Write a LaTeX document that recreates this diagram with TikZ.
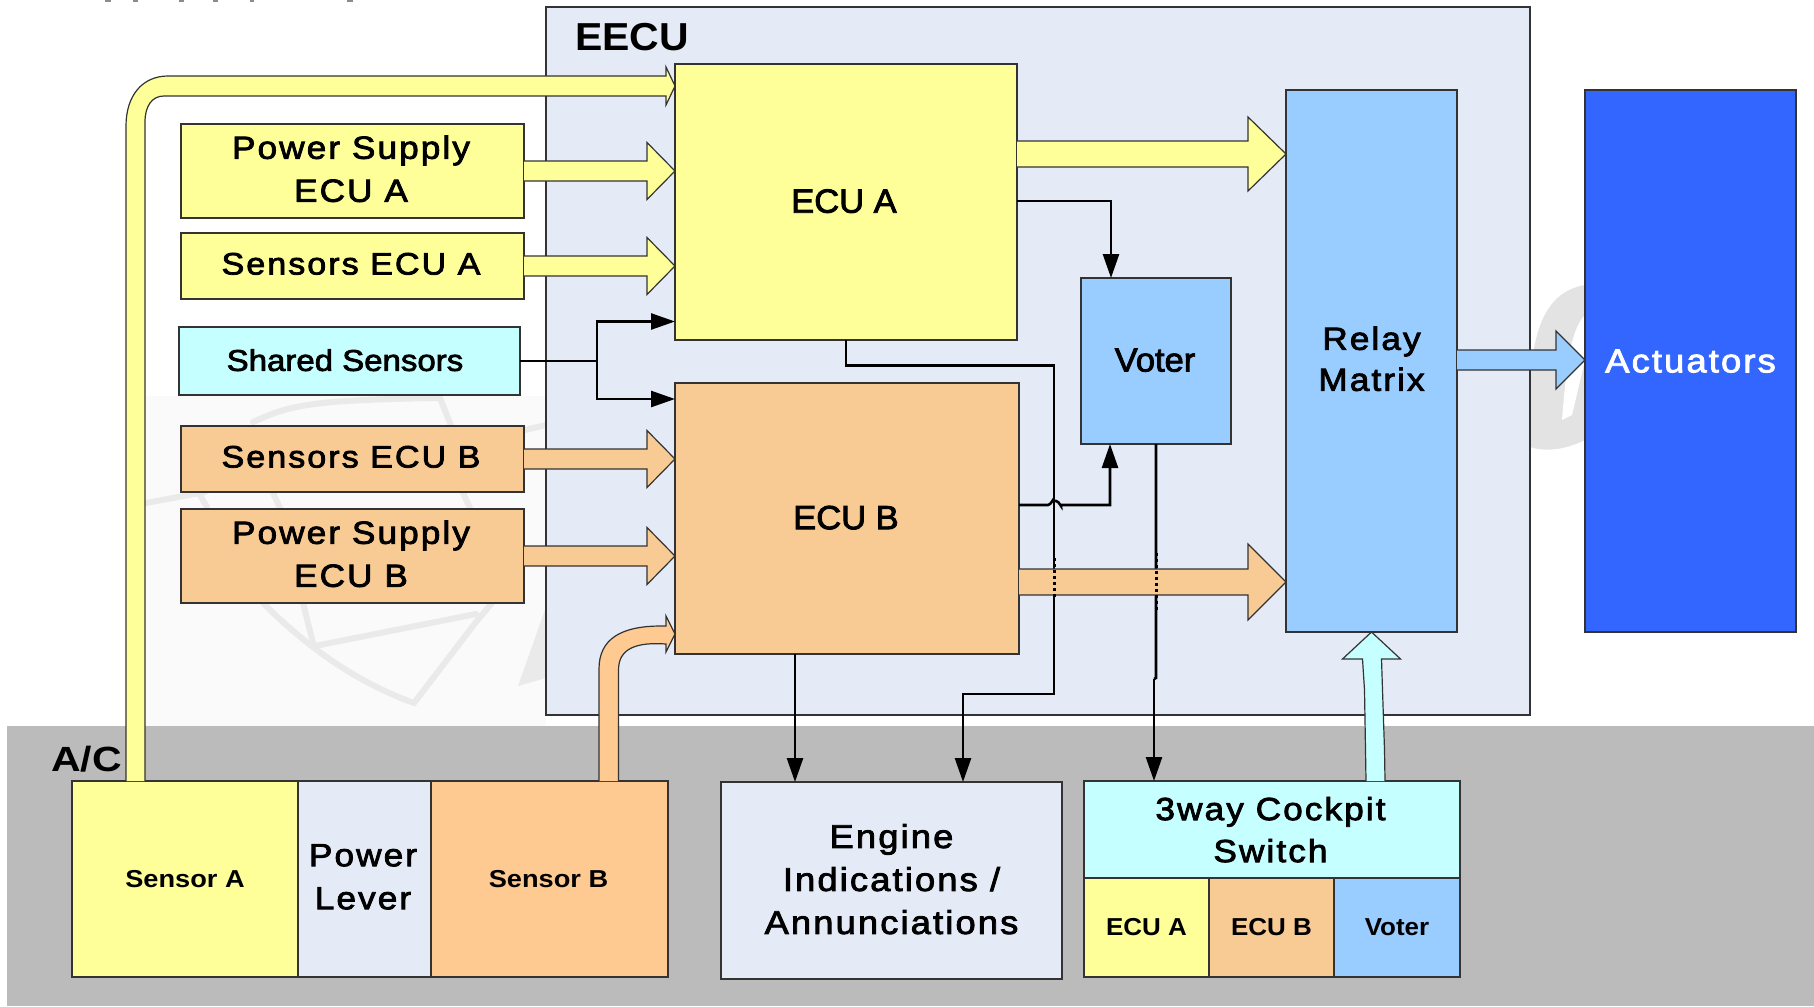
\documentclass[tikz,border=0pt]{standalone}
\usepackage{fontspec}
\usetikzlibrary{calc,arrows.meta}
\setmainfont{Liberation Sans}
\newfontfamily\fw[FakeStretch=1.1,LetterSpace=6.5,FakeBold=2.5]{Liberation Sans}
\newfontfamily\fm[FakeStretch=1.1,FakeBold=2.5]{Liberation Sans}
\newfontfamily\fn[FakeStretch=1.03,FakeBold=2.5]{Liberation Sans}
\newfontfamily\fb[FakeStretch=1.06]{Liberation Sans Bold}
\newfontfamily\fs[FakeStretch=1.11]{Liberation Sans Bold}
\newfontfamily\fe[FakeStretch=1.05]{Liberation Sans Bold}
\newfontfamily\fc[FakeStretch=1.17]{Liberation Sans Bold}
\definecolor{cyel}{HTML}{FFFF99}
\definecolor{cora}{HTML}{F8CA94}
\definecolor{corb}{HTML}{FFC992}
\definecolor{ccyn}{HTML}{C6FFFF}
\definecolor{cblu}{HTML}{99CCFF}
\definecolor{cact}{HTML}{3366FF}
\definecolor{ceec}{HTML}{E5EBF6}
\definecolor{cgry}{HTML}{BBBBBB}
\definecolor{cwm}{HTML}{EAEAEA}
\definecolor{cln}{HTML}{333333}
\tikzset{
  box/.style={draw=cln,line width=1.2pt,inner sep=0pt,outer sep=0pt,align=center,text=black},
  wide/.style={font=\fw\fontsize{32}{43}\selectfont,text depth=4.6pt},
  widec/.style={font=\fw\fontsize{31}{42}\selectfont,text depth=4.6pt},
  mid/.style={font=\fm\fontsize{30}{42}\selectfont,text depth=2pt},
  plain/.style={font=\fn\fontsize{33.5}{42}\selectfont,text depth=2pt},
  small/.style={font=\fb\fontsize{24.5}{30}\selectfont},
  smalls/.style={font=\fs\fontsize{24.5}{30}\selectfont},
  block/.style={draw=cln,line width=1.2pt,line join=miter},
  conn/.style={draw=black,line width=2.6pt,line join=miter},
  tipped/.style={conn,-{Triangle[length=24pt,width=16pt]}},
  fuzzy/.style={draw=black,line width=3pt,dash pattern=on 3pt off 3pt},
  wmk/.style={draw=cwm,line width=6pt,line cap=round}
}
\newcommand\bx[7]{\node[box,#6,minimum width={#4-#2},minimum height={#5-#3}] (#1) at ({(#2+#4)/2},{(#3+#5)/2}) {#7};}
\newcommand\harr[6]{\draw[block,fill=#1] ($(#2)+(0,-#4)$) -- ($(#2 -| #3)+(-#5,-#4)$) -- ($(#2 -| #3)+(-#5,-#6)$) -- (#2 -| #3) -- ($(#2 -| #3)+(-#5,#6)$) -- ($(#2 -| #3)+(-#5,#4)$) -- ($(#2)+(0,#4)$);}
\begin{document}
\begin{tikzpicture}[x=1pt,y=-1pt]
\useasboundingbox (0,0) rectangle (1814,1006);
\fill[white] (0,0) rectangle (1814,1006);
% clipped marks along the top edge
\foreach \mx/\mw in {108/6,135/5,181/5,215/5,252/4,350/6}
  \fill[black!45] (\mx-\mw/2,0) rectangle (\mx+\mw/2,1.6);
% faint watermark
\fill[black!2] (146,396) rectangle (546,726);
\draw[wmk] (146,503) -- (205,492);
\draw[wmk] (253,422) .. controls (290,405) and (310,400) .. (440,398);
\draw[wmk] (440,398) -- (452,428);
\draw[wmk] (525,430) -- (546,425);
\draw[wmk] (200,495) -- (207,507) (273,493) -- (280,508) (463,493) -- (470,508);
\draw[wmk] (263,603) .. controls (300,640) and (350,680) .. (414,703) -- (476,622) -- (492,603);
\draw[wmk] (303,603) -- (313,643);
\draw[wmk] (315,646) -- (476,614);
\fill[cwm] (518,686) -- (546,607) -- (546,678) -- cycle;
\fill[black!11] (1530,447) -- (1530,380) .. controls (1534,330) and (1545,292) .. (1585,285) -- (1585,440) .. controls (1565,450) and (1545,452) .. (1530,447) -- cycle;
\fill[white] (1562,420) .. controls (1566,370) and (1570,330) .. (1585,315) -- (1585,360) -- (1572,415) -- cycle;
% backgrounds
\fill[cgry] (7,726) rectangle (1814,1006);
\node[box,fill=ceec,minimum width=984,minimum height=708] (eecu) at (1038,361) {};
\node[font=\fe\fontsize{39}{42}\selectfont,anchor=west,inner sep=0pt] (eecut) at (575,37) {EECU};
\node[font=\fc\fontsize{35}{42}\selectfont,anchor=west,inner sep=0pt] (act) at (51,759) {A/C};
% boxes
\bx{psa}{181}{124}{524}{218}{fill=cyel,wide}{Power Supply\kern3pt\\ECU A\kern3pt}
\bx{sea}{181}{233}{524}{299}{fill=cyel,widec}{Sensors ECU A\kern3pt}
\bx{ss}{179}{327}{520}{395}{fill=ccyn,mid}{Shared Sensors\kern9pt}
\bx{seb}{181}{426}{524}{492}{fill=cora,widec}{Sensors ECU B\kern3pt}
\bx{psb}{181}{509}{524}{603}{fill=cora,wide}{Power Supply\kern3pt\\ECU B\kern3pt}
\bx{ecua}{675}{64}{1017}{340}{fill=cyel,plain}{ECU A\kern4pt}
\bx{ecub}{675}{383}{1019}{654}{fill=cora,plain}{ECU B\kern2pt}
\bx{vot}{1081}{278}{1231}{444}{fill=cblu,plain}{Voter\kern2pt}
\bx{rm}{1286}{90}{1457}{632}{fill=cblu,wide,font=\fw\fontsize{32}{41}\selectfont}{Relay\\Matrix}
\bx{acts}{1585}{90}{1796}{632}{fill=cact,wide,font=\fw\fontsize{33}{42}\selectfont,text=white,text depth=0pt}{Actuators}
\bx{sa}{72}{781}{298}{977}{fill=cyel,smalls}{Sensor A}
\bx{pl}{298}{781}{431}{977}{fill=ceec,wide}{Power\kern3pt\\Lever\kern3pt}
\bx{sb}{431}{781}{668}{977}{fill=corb,smalls}{Sensor B\kern2pt}
\bx{ei}{721}{782}{1062}{979}{fill=ceec,wide,font=\fw\fontsize{33}{43}\selectfont,text depth=3pt}{Engine\\Indications /\\Annunciations}
\bx{sw}{1084}{781}{1460}{878}{fill=ccyn,wide,font=\fw\fontsize{32}{42}\selectfont,text depth=-3pt}{3way Cockpit\kern3pt\\Switch\kern3pt}
\bx{swa}{1084}{878}{1209}{977}{fill=cyel,small}{ECU A}
\bx{swb}{1209}{878}{1334}{977}{fill=cora,small}{ECU B}
\bx{swv}{1334}{878}{1460}{977}{fill=cblu,small}{Voter}
% thin connectors
\coordinate (jss) at ($(ss.east)+(77,0)$);
\coordinate (ia) at ($(ecua.south west)+(0,-18.5)$);
\coordinate (ib) at ($(ecub.north west)+(0,16)$);
\draw[conn] (ss.east) -- (jss);
\draw[tipped] (jss) -- (jss |- ia) -- (ia);
\draw[tipped] (jss) -- (jss |- ib) -- (ib);
\coordinate (avo) at ($(ecua.north east)+(0,137)$);
\coordinate (vna) at ($(vot.north west)+(30,0)$);
\draw[tipped] (avo) -| (vna);
\coordinate (ecuaout) at ($(ecua.south west)+(171,0)$);
\coordinate (eitop) at ($(ei.north west)+(242,0)$);
\draw[tipped] (ecuaout) -- ++(0,25.5) -| (1054,694) -| (eitop);
\coordinate (bvo) at ($(ecub.north east)+(0,122)$);
\coordinate (vsb) at ($(vot.south west)+(29,0)$);
\draw[tipped] (bvo) -- ($(bvo)+(29,0)$) .. controls +(3,0) and +(1,-4) .. ++(5,-4) -- ++(3,0) .. controls +(3,0) and +(1,4) .. ++(5,4) -| (vsb);
\coordinate (eib) at ($(ei.north west)+(74,0)$);
\draw[tipped] (eib |- ecub.south) -- (eib);
\coordinate (swt) at ($(sw.north west)+(70,0)$);
\draw[conn] (vot.south) -- ($(vot.south)+(0,234)$) -- ($(swt)+(0,-102)$);
\draw[tipped] ($(swt)+(0,-102)$) -- (swt);
% block arrows
\harr{cyel}{psa.east}{ecua.west}{10}{28}{28.5}
\harr{cyel}{sea.east}{ecua.west}{10}{28}{28.5}
\harr{cora}{seb.east}{ecub.west}{10}{28}{28.5}
\harr{cora}{psb.east}{ecub.west}{10}{28}{28.5}
\coordinate (aout) at ($(ecua.north east)+(0,90)$);
\coordinate (bout) at ($(ecub.north east)+(0,199)$);
\harr{cyel}{aout}{rm.west}{13}{38}{37}
\harr{cora}{bout}{rm.west}{13}{38}{38}
\coordinate (rout) at ($(rm.east)+(0,-1)$);
\harr{cblu}{rout}{acts.west}{10}{29}{29}
% bent block arrows
\coordinate (ya) at ($(sa.north west)+(54,0)$);
\coordinate (ye) at ($(ecua.north west)+(0,22)$);
\coordinate (yc) at (ya |- ye);
\draw[block,fill=cyel] (ya) -- ($(yc)+(0,40)$) .. controls ($(yc)+(0,10)$) and ($(yc)+(16,-10)$) .. ($(yc)+(42,-10)$) -- ($(ye)+(-9,-10)$) -- ($(ye)+(-9,-19)$) -- (ye) -- ($(ye)+(-9,19)$) -- ($(ye)+(-9,10)$) -- ($(yc)+(38,10)$) .. controls ($(yc)+(26,10)$) and ($(yc)+(19,20)$) .. ($(yc)+(19,36)$) -- ($(ya)+(19,0)$);
\coordinate (oa) at ($(sb.north west)+(168,0)$);
\coordinate (oe) at ($(ecub.south west)+(0,-20)$);
\coordinate (oc) at (oa |- oe);
\draw[block,fill=corb] (oa) -- ($(oc)+(0,35)$) .. controls ($(oc)+(0,5)$) and ($(oc)+(22,-8)$) .. ($(oe)+(-14,-8)$) -- ($(oe)+(-9,-8)$) -- ($(oe)+(-9,-18)$) -- (oe) -- ($(oe)+(-9,18)$) -- ($(oe)+(-9,10)$) .. controls ($(oc)+(38,8)$) and ($(oc)+(19.5,14)$) .. ($(oc)+(19.5,36)$) -- ($(oa)+(19.5,0)$);
% cockpit switch arrow
\draw[block,fill=ccyn] ($(sw.north west)+(282,0)$) -- ($(rm.south)+(-6,118)$) -- ($(rm.south)+(-7,58)$) -- ($(rm.south)+(-9,27)$) -- ($(rm.south)+(-29,27)$) -- (rm.south) -- ($(rm.south)+(29,27)$) -- ($(rm.south)+(10,27)$) -- ($(rm.south)+(11,58)$) -- ($(rm.south)+(13,118)$) -- ($(sw.north west)+(301,0)$);
% lines showing through the orange arrow
\coordinate (fa) at (1054,558);
\draw[fuzzy] (fa) -- ($(fa)+(0,42)$);
\coordinate (fb) at ($(vot.south)+(0,109)$);
\draw[fuzzy] (fb) -- ($(fb)+(0,57)$);
\end{tikzpicture}
\end{document}
